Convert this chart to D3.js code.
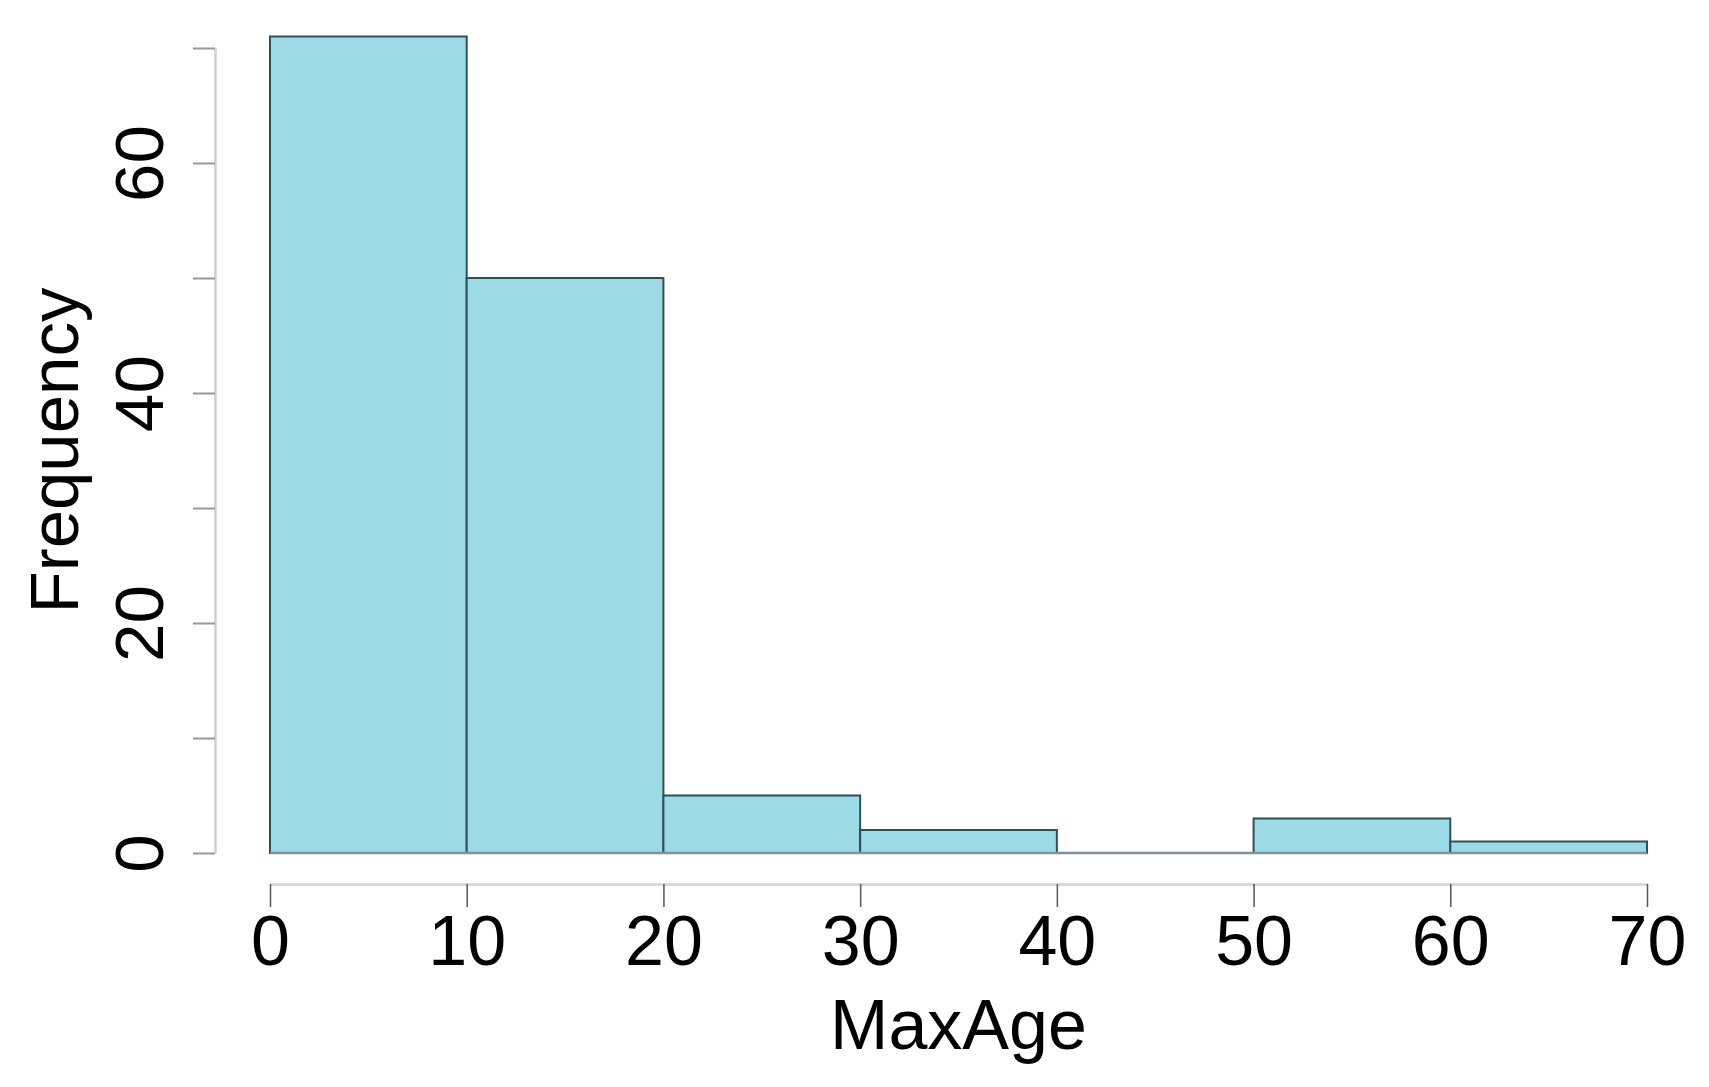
<!DOCTYPE html>
<html>
<head>
<meta charset="utf-8">
<script src="https://cdn.jsdelivr.net/npm/d3@7"></script>
<style>
  html, body { margin: 0; padding: 0; background: #ffffff; }
  svg { display: block; }
  text { font-family: "Liberation Sans", Arial, Helvetica, sans-serif; fill: #000; }
</style>
</head>
<body>
<svg id="chart" width="1709" height="1087"></svg>
<script>
// ---- data ----
const binStarts = [0, 10, 20, 30, 40, 50, 60];
const binEnds   = [10, 20, 30, 40, 50, 60, 70];
const counts    = [71, 50, 5, 2, 0, 3, 1];
const xTicks    = [0, 10, 20, 30, 40, 50, 60, 70];
const yTicks    = [0, 10, 20, 30, 40, 50, 60, 70];
const yLabelled = [0, 20, 40, 60];
const xTitle = "MaxAge";
const yTitle = "Frequency";

const svg = d3.select("#chart");

const x = d3.scaleLinear().domain([0, 70]).range([270, 1647]);
const y = d3.scaleLinear().domain([0, 70]).range([853, 48]);

const bins = binStarts.map((s, i) => ({ x0: s, x1: binEnds[i], n: counts[i] }));

// bars
svg.append("g")
  .selectAll("rect")
  .data(bins)
  .join("rect")
  .attr("x", d => x(d.x0))
  .attr("y", d => y(d.n))
  .attr("width", d => x(d.x1) - x(d.x0))
  .attr("height", d => y(0) - y(d.n))
  .attr("fill", "#9cdae6")
  .attr("stroke", "#2f4f5a")
  .attr("stroke-width", 2);

// baseline of bars (grey bottom edge)
svg.append("line")
  .attr("x1", x(0)).attr("x2", x(70))
  .attr("y1", y(0)).attr("y2", y(0))
  .attr("stroke", "#7d939b")
  .attr("stroke-width", 2.5);

// x axis
const xAxis = d3.axisBottom(x)
  .tickValues(xTicks)
  .tickSize(23)
  .tickSizeOuter(0)
  .tickPadding(4)
  .tickFormat(d3.format("d"));

const gx = svg.append("g")
  .attr("transform", `translate(0,884)`)
  .call(xAxis);
gx.select(".domain").attr("stroke", "#d9d9d9").attr("stroke-width", 3);
gx.selectAll(".tick line").attr("stroke", "#555").attr("stroke-width", 1.5);
gx.selectAll(".tick text")
  .attr("font-size", 70)
  .attr("font-family", "Liberation Sans, Arial, sans-serif")
  .attr("fill", "#000")
  .attr("dy", null)
  .attr("y", 81);

// y axis
const yAxis = d3.axisLeft(y)
  .tickValues(yTicks)
  .tickSize(22)
  .tickSizeOuter(0)
  .tickFormat(d => yLabelled.includes(d) ? d3.format("d")(d) : "");

const gy = svg.append("g")
  .attr("transform", `translate(215,0)`)
  .call(yAxis);
gy.select(".domain").attr("stroke", "#cfcfcf").attr("stroke-width", 2.5);
gy.selectAll(".tick line").attr("stroke", "#999").attr("stroke-width", 2);
gy.selectAll(".tick text")
  .attr("font-size", 69)
  .attr("font-family", "Liberation Sans, Arial, sans-serif")
  .attr("fill", "#000")
  .attr("x", null)
  .attr("dy", null)
  .attr("text-anchor", "middle")
  .attr("transform", "translate(-52,0) rotate(-90)");

// axis titles
svg.append("text")
  .attr("x", x(35))
  .attr("y", 1049)
  .attr("text-anchor", "middle")
  .attr("font-size", 70)
  .text(xTitle);

svg.append("text")
  .attr("transform", `translate(78,${(y(0) + y(70)) / 2}) rotate(-90)`)
  .attr("text-anchor", "middle")
  .attr("font-size", 69)
  .text(yTitle);
</script>
</body>
</html>
